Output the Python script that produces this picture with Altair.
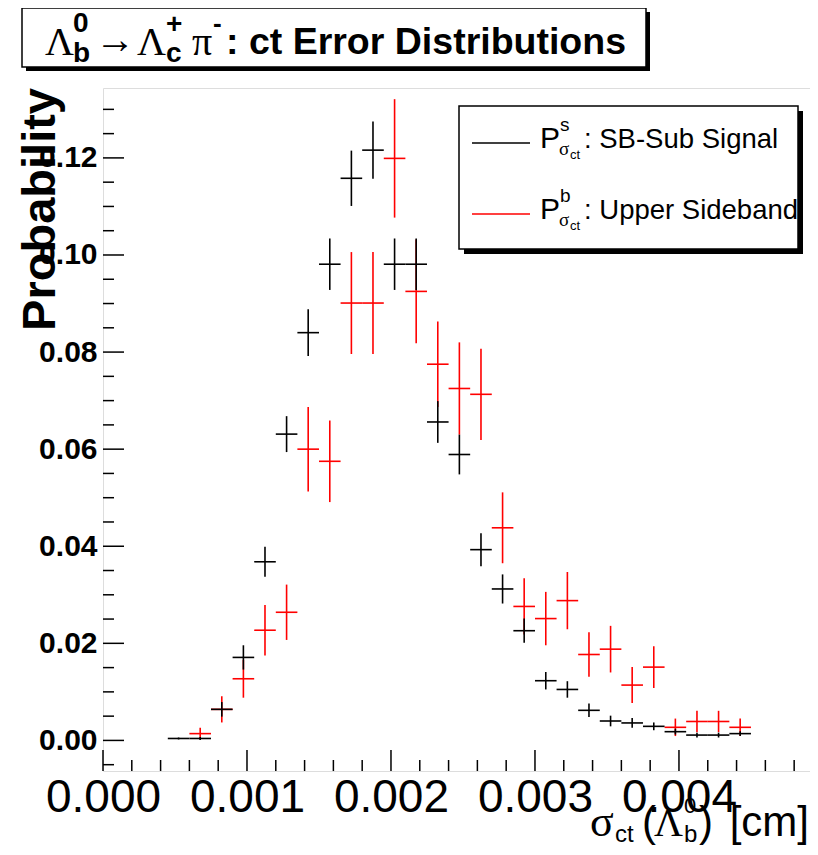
import altair as alt
import pandas as pd

# ---------------- data ----------------
bin_half = 0.000075  # half of the 0.00015 cm bin width

sig_x = [0.000525, 0.000675, 0.000825, 0.000975, 0.001125, 0.001275, 0.001425,
         0.001575, 0.001725, 0.001875, 0.002025, 0.002175, 0.002325, 0.002475,
         0.002625, 0.002775, 0.002925, 0.003075, 0.003225, 0.003375, 0.003525,
         0.003675, 0.003825, 0.003975, 0.004125, 0.004275, 0.004425]
sig_val = [0.0004, 0.0004, 0.0064, 0.0171, 0.0368, 0.0631, 0.0840, 0.0981, 0.1158,
           0.1216, 0.0981, 0.0981, 0.0656, 0.0589, 0.0393, 0.0312, 0.0226, 0.0123,
           0.0105, 0.0062, 0.0040, 0.0036, 0.0029, 0.0018, 0.0011, 0.0011, 0.0014]
sig_err = [0.0002, 0.0003, 0.0015, 0.0025, 0.0031, 0.0037, 0.0048, 0.0053, 0.0057,
           0.0059, 0.0053, 0.0053, 0.0043, 0.0041, 0.0034, 0.0030, 0.0025, 0.0018,
           0.0017, 0.0014, 0.0011, 0.0010, 0.0008, 0.0006, 0.0005, 0.0005, 0.0005]

bkg_x = [0.000675, 0.000825, 0.000975, 0.001125, 0.001275, 0.001425, 0.001575,
         0.001725, 0.001875, 0.002025, 0.002175, 0.002325, 0.002475, 0.002625,
         0.002775, 0.002925, 0.003075, 0.003225, 0.003375, 0.003525, 0.003675,
         0.003825, 0.003975, 0.004125, 0.004275, 0.004425]
bkg_val = [0.0014, 0.0064, 0.0127, 0.0227, 0.0264, 0.0600, 0.0575, 0.0901, 0.0901,
           0.1199, 0.0925, 0.0775, 0.0725, 0.0713, 0.0438, 0.0276, 0.0251, 0.0288,
           0.0177, 0.0188, 0.0114, 0.0151, 0.0027, 0.0039, 0.0039, 0.0027]
bkg_err = [0.0012, 0.0027, 0.0039, 0.0052, 0.0057, 0.0087, 0.0084, 0.0105, 0.0105,
           0.0122, 0.0107, 0.0088, 0.0095, 0.0094, 0.0073, 0.0058, 0.0055, 0.0059,
           0.0046, 0.0048, 0.0037, 0.0043, 0.0018, 0.0022, 0.0022, 0.0018]

x_major = [0.0, 0.001, 0.002, 0.003, 0.004]
x_minor = [round(i * 0.0002, 4) for i in range(25) if i % 5 != 0]
y_major = [0.0, 0.02, 0.04, 0.06, 0.08, 0.10, 0.12]
y_minor = [round(-0.005 + i * 0.005, 3) for i in range(28) if (i - 1) % 4 != 0]

# ---------------- layout ----------------
W, H = 707, 683
OX, OY = 103, 88  # page position of plot origin
SANS = "Liberation Sans"
SERIF = "Liberation Serif"
NARROW = "Liberation Sans Narrow, Liberation Sans"

XD = [0.0, 0.00491]
YD = [-0.0063, 0.1344]
xs = alt.Scale(domain=XD, nice=False, zero=False)
ys = alt.Scale(domain=YD, nice=False, zero=False)
px_per_x = W / (XD[1] - XD[0])
px_per_y = H / (YD[1] - YD[0])

def frame(xv, val, err, name):
    return pd.DataFrame({
        "x": xv, "xlo": [v - bin_half for v in xv], "xhi": [v + bin_half for v in xv],
        "y": val, "ylo": [v - e for v, e in zip(val, err)],
        "yhi": [v + e for v, e in zip(val, err)], "s": name})

sig = frame(sig_x, sig_val, sig_err, "sig")
bkg = frame(bkg_x, bkg_val, bkg_err, "bkg")

def crosses(df, color):
    base = alt.Chart(df)
    h = base.mark_rule(color=color, strokeWidth=1.6).encode(
        x=alt.X("xlo:Q", scale=xs), x2="xhi:Q", y=alt.Y("y:Q", scale=ys))
    v = base.mark_rule(color=color, strokeWidth=1.6).encode(
        x=alt.X("x:Q", scale=xs), y=alt.Y("ylo:Q", scale=ys), y2="yhi:Q")
    return h + v

one = pd.DataFrame({"d": [0]})

def txt(s, px, py, size, font=SANS, bold=False, color="black", align="left", angle=0):
    kw = dict(align=align, baseline="alphabetic", fontSize=size, font=font,
              fontWeight="bold" if bold else "normal", color=color)
    if angle:
        kw["angle"] = angle
    return alt.Chart(pd.DataFrame({"t": [s]})).mark_text(**kw).encode(
        text="t:N", x=alt.value(px - OX), y=alt.value(py - OY))

def box(x1, y1, x2, y2, fill, stroke=None, sw=0):
    kw = dict(fill=fill)
    if stroke:
        kw.update(stroke=stroke, strokeWidth=sw)
    return alt.Chart(one).mark_rect(**kw).encode(
        x=alt.value(x1 - OX), x2=alt.value(x2 - OX),
        y=alt.value(y1 - OY), y2=alt.value(y2 - OY))

def hline(x1, x2, y, color):
    return alt.Chart(one).mark_rule(color=color, strokeWidth=1.5).encode(
        x=alt.value(x1 - OX), x2=alt.value(x2 - OX), y=alt.value(y - OY))

# axes (labels only) carried by an invisible layer
axes = alt.Chart(pd.DataFrame({"x": [0.0], "y": [0.0]})).mark_point(opacity=0).encode(
    x=alt.X("x:Q", scale=xs, axis=alt.Axis(
        values=x_major, format=".3f", title=None, ticks=False, tickSize=0, domain=False,
        grid=False, labelFont=NARROW, labelFontSize=46, labelColor="black",
        labelPadding=4, labelFlush=False, labelOverlap=False)),
    y=alt.Y("y:Q", scale=ys, axis=alt.Axis(
        values=y_major, format=".2f", title=None, ticks=False, tickSize=0, domain=False,
        grid=False, labelFont=SANS, labelFontSize=30, labelFontWeight="bold",
        labelColor="black", labelPadding=6, labelOverlap=False)))

# inward ticks, drawn through the scales
def xticks(vals, length):
    df = pd.DataFrame({"t": vals, "y0": YD[0], "y1": YD[0] + length / px_per_y})
    return alt.Chart(df).mark_rule(color="black", strokeWidth=1.5).encode(
        x=alt.X("t:Q", scale=xs), y=alt.Y("y0:Q", scale=ys), y2="y1:Q")

def yticks(vals, length):
    df = pd.DataFrame({"t": vals, "x0": XD[0], "x1": XD[0] + length / px_per_x})
    return alt.Chart(df).mark_rule(color="black", strokeWidth=1.5).encode(
        y=alt.Y("t:Q", scale=ys), x=alt.X("x0:Q", scale=xs), x2="x1:Q")

layers = [
    axes,
    xticks(x_major, 21), xticks(x_minor, 11),
    yticks(y_major, 21), yticks(y_minor, 11),
    crosses(bkg, "#ff0000"),
    crosses(sig, "black"),
    # title box
    box(26, 12, 650, 71, "black"),
    box(22, 8, 646, 67, "white", "black", 1.5),
    txt("Λ", 45, 55, 40, SERIF),
    txt("0", 73, 32, 28, SANS, True),
    txt("b", 73, 62, 28, SANS, True),
    txt("→", 95, 53, 40, SERIF),
    txt("Λ", 137, 55, 40, SERIF),
    txt("+", 166, 33, 28, SANS, True),
    txt("c", 166, 62, 28, SANS, True),
    txt("π", 192, 55, 40, SERIF),
    txt("-", 213, 32, 26, SANS, True),
    txt(": ct Error Distributions", 226, 54, 37.5, SANS, True),
    # legend box
    box(464, 111, 803, 254, "black"),
    box(459, 106, 798, 249, "white", "black", 1.5),
    hline(472, 530, 143, "black"),
    hline(472, 530, 214, "#ff0000"),
    txt("P", 540, 148, 30),
    txt("s", 560, 131, 19),
    txt("σ", 559, 155, 19, SERIF),
    txt("ct", 570, 159, 13),
    txt(": SB-Sub Signal", 584, 148, 27.5),
    txt("P", 540, 219, 30),
    txt("b", 560, 202, 19),
    txt("σ", 559, 226, 19, SERIF),
    txt("ct", 570, 230, 13),
    txt(": Upper Sideband", 584, 219, 27.5),
    # axis titles
    txt("Probability", 55, 88, 47, SANS, True, align="right", angle=270),
    txt("σ", 590, 836, 44, SERIF),
    txt("ct", 615, 842, 24),
    txt("(", 642, 836, 42),
    txt("Λ", 654, 836, 40, SERIF),
    txt("0", 684, 813, 22),
    txt("b", 684, 842, 24),
    txt(")", 699, 836, 42),
    txt("[cm]", 809, 836, 42, align="right"),
]

chart = alt.layer(*layers).properties(
    width=W, height=H,
    autosize=alt.AutoSizeParams(type="none"),
    padding={"left": 95, "top": 80, "right": 0, "bottom": 76},
).configure_view(stroke="black", strokeWidth=2.5).configure(background="white")

chart.save("out.html", embed_options={"renderer": "svg", "actions": False})
